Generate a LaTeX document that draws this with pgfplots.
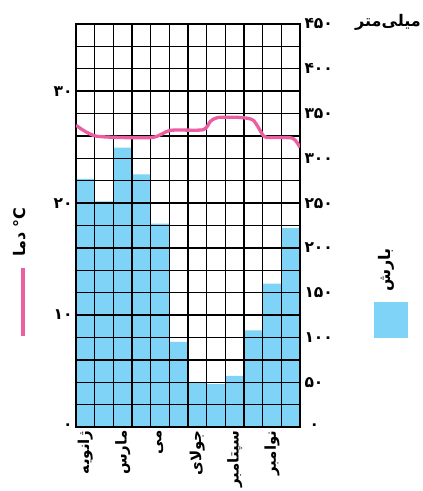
\documentclass[border=0pt]{standalone}
\usepackage{fontspec}
\usepackage{pgfplots}
\pgfplotsset{compat=1.18}
\TeXXeTstate=1
\newfontfamily\fa[Script=Arabic]{DejaVu Sans}
\newcommand{\fr}[1]{{\fa\bfseries\beginR #1\endR}}
\definecolor{barblue}{HTML}{7FD3F6}
\definecolor{temppink}{HTML}{EC5EA2}
\newcommand{\tickfont}{\fa\bfseries\fontsize{15.5}{15.5}\selectfont}

\begin{document}
\begin{tikzpicture}
\useasboundingbox (0,0) rectangle (423pt,491pt);
% precipitation (bars), right axis
\begin{axis}[at={(76pt,64pt)}, anchor=south west, scale only axis,
  width=224pt, height=403pt,
  xmin=0, xmax=12, ymin=0, ymax=450,
  xtick={0,...,12}, xticklabels={},
  ytick={0,50,...,450}, minor ytick={25,75,...,425},
  yticklabel pos=right,
  yticklabels={\hspace{5pt}۰,۵۰,۱۰۰,۱۵۰,۲۰۰,۲۵۰,۳۰۰,۳۵۰,۴۰۰,۴۵۰},
  yticklabel style={font=\tickfont, anchor=west, xshift=1pt},
  grid=both, grid style={black, line width=1.4pt},
  minor grid style={black, line width=1.4pt},
  tick style={draw=none}, axis line style={line width=2.4pt},
  axis on top,
  extra x ticks={0.5,2.5,4.5,6.5,8.5,10.5},
  extra x tick labels={\fr{ژانویه},\fr{مارس},\fr{می},\fr{جولای},\fr{سپتامبر},\fr{نوامبر}},
  extra x tick style={grid=none, tick style={draw=none},
    tick label style={rotate=90, anchor=east, font=\fontsize{15}{15}\selectfont}}]
\addplot[ybar, bar width=1, fill=barblue, draw=none] coordinates {
  (0.5,277) (1.5,252) (2.5,312) (3.5,282) (4.5,227) (5.5,95)
  (6.5,50) (7.5,48) (8.5,57) (9.5,108) (10.5,160) (11.5,222)};
\end{axis}
% temperature (line), left axis
\begin{axis}[at={(76pt,64pt)}, anchor=south west, scale only axis,
  width=224pt, height=403pt,
  xmin=0, xmax=12, ymin=0, ymax=36,
  xtick=\empty, ytick={0,10,20,30},
  yticklabels={۰\hspace{9pt},۱۰,۲۰,۳۰},
  yticklabel style={font=\tickfont},
  tick style={draw=none}, axis line style={draw=none}]
\addplot[temppink, line width=3.3pt, smooth, tension=0.4] coordinates {
  (0,26.96) (1.1,25.98) (4.05,25.86) (5.05,26.5) (6.8,26.55) (7.2,27.3)
  (7.6,27.65) (8.8,27.65) (9.5,27.4) (10.05,26.0) (10.4,25.86)
  (11.6,25.8) (12,24.98)};
\end{axis}
% legend pieces and titles
\draw[temppink, line width=3.3pt] (23pt,155pt) -- (23pt,223pt);
\fill[barblue] (374pt,153pt) rectangle (408pt,189pt);
\node[rotate=90, font=\fontsize{16}{16}\selectfont] at (20pt,259pt) {\fr{دما} {\fa\bfseries °C}};
\node[rotate=90, font=\fontsize{16}{16}\selectfont] at (386pt,221pt) {\fr{بارش}};
\node[font=\fontsize{16}{16}\selectfont] at (388pt,469pt) {\fr{میلی‌متر}};
\end{tikzpicture}
\end{document}
